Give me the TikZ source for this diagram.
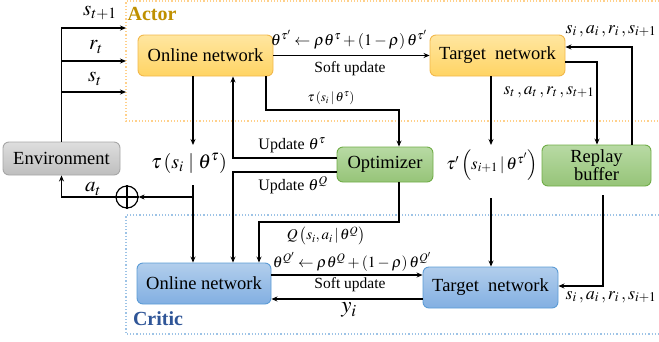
\documentclass[tikz,border=0pt]{standalone}
\usepackage{mathptmx}
\usepackage[no-math]{fontspec}
\setmainfont{Liberation Serif}
\usetikzlibrary{arrows.meta,calc}
\definecolor{actorc}{HTML}{BF9000}
\definecolor{criticc}{HTML}{2F5597}
\definecolor{dotor}{HTML}{FFD08A}
\definecolor{dotbl}{HTML}{9DC3E6}
\definecolor{ordraw}{HTML}{F2B84B}
\definecolor{ortop}{HTML}{FFE6A0}
\definecolor{orbot}{HTML}{FFD464}
\definecolor{grdraw}{HTML}{70AD47}
\definecolor{grtop}{HTML}{B8DAA4}
\definecolor{grbot}{HTML}{96C478}
\definecolor{bldraw}{HTML}{5B9BD5}
\definecolor{bltop}{HTML}{B2CEEC}
\definecolor{blbot}{HTML}{82AFE2}
\definecolor{gydraw}{HTML}{A6A6A6}
\definecolor{gytop}{HTML}{DEDEDE}
\definecolor{gybot}{HTML}{BEBEBE}
\tikzset{
  box/.style={rounded corners=6pt, line width=0.9pt, align=center, inner sep=0pt, font=\fontsize{18.5}{19}\selectfont},
  orbox/.style={box, draw=ordraw, top color=ortop, bottom color=orbot},
  grbox/.style={box, draw=grdraw, top color=grtop, bottom color=grbot},
  blbox/.style={box, draw=bldraw, top color=bltop, bottom color=blbot},
  gybox/.style={box, draw=gydraw, top color=gytop, bottom color=gybot},
  arr/.style={line width=1.3pt, -{Stealth[length=6pt,width=5pt]}},
  lab/.style={inner sep=0pt},
}
\begin{document}
\begin{tikzpicture}[x=1pt,y=-1pt]
\useasboundingbox (0,0) rectangle (659,341);
% group frames
\draw[dotor, line width=1.2pt, dotted] (659,1) -- (126,1) -- (126,121) -- (659,121);
\draw[dotbl, line width=1.2pt, dotted] (659,215) -- (126,215) -- (126,334) -- (659,334);
\node[lab, text=actorc, font=\fontsize{20}{20}\selectfont\bfseries] (actorlab) at (152,14) {Actor};
\node[lab, text=criticc, font=\fontsize{20}{20}\selectfont\bfseries] (criticlab) at (158,319) {Critic};

% nodes
\node[orbox, minimum width=135pt, minimum height=41pt] (aonline) at (205.5,55.5) {Online network};
\node[orbox, minimum width=135pt, minimum height=41pt] (atarget) at (497.5,55.5) {Target\ \ network};
\node[grbox, minimum width=96pt, minimum height=35pt] (opt) at (385,164.5) {Optimizer};
\node[grbox, minimum width=109pt, minimum height=41pt, font=\fontsize{18.5}{18}\selectfont] (replay) at (596.5,165.5) {Replay\\buffer};
\node[gybox, minimum width=117pt, minimum height=33pt] (env) at (61.5,158.5) {Environment};
\node[blbox, minimum width=134pt, minimum height=41pt] (conline) at (204,283.5) {Online network};
\node[blbox, minimum width=135pt, minimum height=41pt] (ctarget) at (490.5,287.5) {Target\ \ network};
\node[draw, circle, line width=1.2pt, minimum size=22pt, inner sep=0pt] (oplus) at (127,197) {};
\draw[line width=1.2pt] (oplus.north) -- (oplus.south) (oplus.west) -- (oplus.east);

% coordinates
\coordinate (s1) at (126,28);
\coordinate (s2) at (126,61);
\coordinate (s3) at (126,92);
\coordinate (j1) at (193,145);
\coordinate (j2) at (193,185);
\coordinate (j3) at (193,197);
\coordinate (u1) at (233,158);
\coordinate (u2) at (233,172);
\coordinate (t1) at (266,110);
\coordinate (t2) at (399,110);
\coordinate (q1) at (399,222);
\coordinate (q2) at (259,222);
\coordinate (cs) at (0,275);
\coordinate (yy) at (0,299);
\coordinate (r1) at (597,62);
\coordinate (r2) at (632,47);
\coordinate (r3) at (603,286);
\coordinate (k1) at (491,145);
\coordinate (k2) at (491,198);

% environment inputs
\draw[arr] (env.north) |- (s1);
\draw[arr] (env.north |- s2) -- (s2);
\draw[arr] (env.north |- s3) -- (s3);
\node[lab, font=\fontsize{21}{21}\selectfont] (lst1) at (100,13) {$s_{t+1}$};
\node[lab, font=\fontsize{21}{21}\selectfont] (lrt) at (96,47) {$r_t$};
\node[lab, font=\fontsize{21}{21}\selectfont] (lst) at (95,79) {$s_t$};
\draw[arr] (oplus.west) -| (env.south);
\node[lab, font=\fontsize{21}{21}\selectfont] (lat) at (93,189) {$a_t$};

% actor online -> tau -> critic / oplus
\draw[arr] (aonline.south -| j1) -- (j1);
\node[lab, font=\fontsize{20}{20}\selectfont] (ltau) at (189,163) {$\tau\left(s_i\;|\;\theta^{\tau}\right)$};
\draw[arr] (j2) -- (conline.north -| j2);
\draw[arr] (j3) -- (oplus.east);

% optimizer updates
\draw[arr] (u1 -| opt.west) -- (u1) -- (aonline.south -| u1);
\node[lab, font=\fontsize{16}{16}\selectfont] (lupa) at (292,145) {Update $\theta^{\tau}$};
\draw[arr] (u2 -| opt.west) -- (u2) -- (conline.north -| u2);
\node[lab, font=\fontsize{16}{16}\selectfont] (lupc) at (293,185) {Update $\theta^{Q}$};

% actor output to optimizer
\draw[arr] (aonline.south -| t1) -- (t1) -- (t2) -- (opt.north -| t2);
\node[lab, font=\fontsize{13}{13}\selectfont] (ltaus) at (331,98) {$\tau\left(s_i\,|\,\theta^{\tau}\right)$};

% optimizer Q to critic online
\draw[arr] (opt.south -| q1) -- (q1) -- (q2) -- (conline.north -| q2);
\node[lab, font=\fontsize{15}{15}\selectfont] (lq) at (326,236) {$Q\left(s_i,a_i\,|\,\theta^{Q}\right)$};

% actor soft update
\draw[arr] (aonline.east) -- (atarget.west);
\node[lab, font=\fontsize{16}{16}\selectfont] (lsfa) at (349,40) {$\theta^{\tau'}\leftarrow\rho\theta^{\tau}+\left(1-\rho\right)\theta^{\tau'}$};
\node[lab, font=\fontsize{15.5}{16}\selectfont] (lsua) at (350,69) {Soft update};

% critic soft update and y_i
\draw[arr] (conline.east |- cs) -- (ctarget.west |- cs);
\node[lab, font=\fontsize{15.5}{16}\selectfont] (lsfc) at (352,262) {$\theta^{Q'}\leftarrow\rho\theta^{Q}+\left(1-\rho\right)\theta^{Q'}$};
\node[lab, font=\fontsize{15.5}{16}\selectfont] (lsuc) at (350,285) {Soft update};
\draw[arr] (ctarget.west |- yy) -- (conline.east |- yy);
\node[lab, font=\fontsize{23}{23}\selectfont] (lyi) at (349,310) {$y_i$};

% actor target -> tau' -> critic target
\draw[arr] (atarget.south -| k1) -- (k1);
\node[lab, font=\fontsize{17}{17}\selectfont] (ltp) at (492,165) {$\tau'\left(s_{i+1}\,|\,\theta^{\tau'}\right)$};
\draw[arr] (k2) -- (ctarget.north -| k2);

% replay buffer connections
\draw[arr] (atarget.east |- r1) -- (r1) -- (replay.north -| r1);
\node[lab, font=\fontsize{17.5}{17}\selectfont] (lstr) at (549,92) {$s_t\,,a_t\,,r_t\,,s_{t+1}$};
\draw[arr] (replay.north -| r2) -- (r2) -- (atarget.east |- r2);
\node[lab, font=\fontsize{18}{18}\selectfont] (lsia) at (611,31) {$s_i\,,a_i\,,r_i\,,s_{i+1}$};
\draw[arr, shorten <=9pt] (replay.south -| r3) -- (r3) -- (ctarget.east |- r3);
\node[lab, font=\fontsize{18}{18}\selectfont] (lsic) at (611,297) {$s_i\,,a_i\,,r_i\,,s_{i+1}$};
\end{tikzpicture}
\end{document}
